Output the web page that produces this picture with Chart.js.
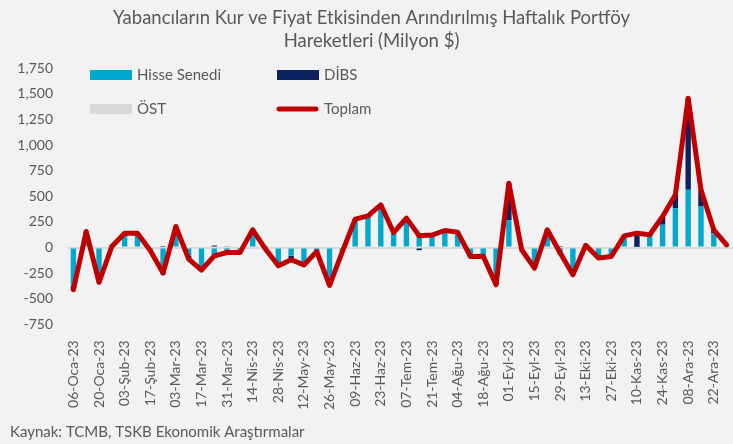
<!DOCTYPE html>
<html>
<head>
<meta charset="utf-8">
<script src="https://cdn.jsdelivr.net/npm/chart.js@4/dist/chart.umd.min.js"></script>
<style>
  html, body { margin: 0; padding: 0; background: #f2f2f2; }
</style>
</head>
<body>
<canvas id="myChart" width="733" height="444"></canvas>
<script>
// haftalik portfoy hareketleri, milyon $
var weeks = [
  "06-Oca-23", "13-Oca-23", "20-Oca-23", "27-Oca-23",
  "03-Şub-23", "10-Şub-23", "17-Şub-23", "24-Şub-23",
  "03-Mar-23", "10-Mar-23", "17-Mar-23", "24-Mar-23", "31-Mar-23",
  "07-Nis-23", "14-Nis-23", "21-Nis-23", "28-Nis-23",
  "05-May-23", "12-May-23", "19-May-23", "26-May-23",
  "02-Haz-23", "09-Haz-23", "16-Haz-23", "23-Haz-23", "30-Haz-23",
  "07-Tem-23", "14-Tem-23", "21-Tem-23", "28-Tem-23",
  "04-Ağu-23", "11-Ağu-23", "18-Ağu-23", "25-Ağu-23",
  "01-Eyl-23", "08-Eyl-23", "15-Eyl-23", "22-Eyl-23", "29-Eyl-23",
  "06-Eki-23", "13-Eki-23", "20-Eki-23", "27-Eki-23",
  "03-Kas-23", "10-Kas-23", "17-Kas-23", "24-Kas-23",
  "01-Ara-23", "08-Ara-23", "15-Ara-23", "22-Ara-23", "29-Ara-23"
];

var hisse = [-370, 120, -330, -10, 110, 140, -20, -265, 180, -80, -200, -100, -60,
  -60, 130, -20, -170, -80, -150, -30, -360, -50, 260, 290, 390, 140,
  250, 140, 120, 160, 150, -80, -80, -350, 265, -20, -190, 150, -67,
  -250, 16, -100, -85, 100, 5, 120, 221, 384, 563, 400, 140, 20];

var dibs = [-40, 36, -10, 20, 30, 0, -10, 15, 25, -33, -20, 19, 11,
  10, 43, 5, -8, -40, -20, -10, -10, 10, 17, 19, 27, 6,
  37, -26, 1, 6, 0, -8, -5, -14, 363, -2, -11, 23, 15,
  -16, 6, -3, -3, 14, 135, 4, 82, 130, 895, 163, 33, 6];

var ost = [-3, 0, 0, 0, 0, 0, 0, 0, 0, 0, 0, 0, 0,
  0, 0, 0, 0, 0, 0, 0, 0, 0, 0, 0, 0, 0,
  0, 0, 0, 0, 0, 0, 0, 0, 0, 0, 0, 0, 0,
  0, 0, 0, 0, 0, 0, 0, 0, 0, 0, 0, 0, 0];

var toplam = [-413, 156, -340, 10, 140, 140, -30, -250, 205, -113, -220, -81, -49,
  -50, 173, -15, -178, -120, -170, -40, -370, -40, 277, 309, 417, 146,
  287, 114, 121, 166, 150, -88, -85, -364, 628, -22, -201, 173, -52,
  -266, 22, -103, -88, 114, 140, 124, 303, 514, 1458, 563, 173, 26];

var seriesNames = ["Hisse Senedi", "DİBS", "ÖST", "Toplam"];
var seriesColors = ["#00a8d0", "#0b2161", "#d9d9d9", "#c00000"];

Chart.defaults.font.family = "Lato, 'Open Sans', sans-serif";
Chart.defaults.color = "#595959";

// legend sits inside the plot, two columns
var insideLegend = {
  id: "insideLegend",
  afterDraw: function (chart) {
    var ctx = chart.ctx;
    var cols = [90, 277];
    var rows = [75, 109];
    ctx.save();
    ctx.font = "15px Lato, 'Open Sans', sans-serif";
    ctx.textBaseline = "middle";
    seriesNames.forEach(function (name, i) {
      var x = cols[i % 2];
      var y = rows[Math.floor(i / 2)];
      if (i === 3) {
        ctx.strokeStyle = seriesColors[i];
        ctx.lineWidth = 5;
        ctx.lineCap = "round";
        ctx.beginPath();
        ctx.moveTo(x + 2, y);
        ctx.lineTo(x + 39, y);
        ctx.stroke();
      } else {
        ctx.fillStyle = seriesColors[i];
        ctx.fillRect(x, y - 5, 42, 10);
      }
      ctx.fillStyle = "#595959";
      ctx.fillText(name, x + 47, y);
    });
    ctx.restore();
  },
};

new Chart("myChart", {
  type: "bar",
  data: {
    labels: weeks,
    datasets: [
      {
        type: "line",
        label: seriesNames[3],
        data: toplam,
        borderColor: seriesColors[3],
        backgroundColor: seriesColors[3],
        borderWidth: 5,
        pointRadius: 0,
        tension: 0,
        borderJoinStyle: "round",
        borderCapStyle: "round",
        stack: "total",
        order: 0,
      },
      {
        label: seriesNames[0],
        data: hisse,
        backgroundColor: seriesColors[0],
        stack: "flows",
        order: 1,
      },
      {
        label: seriesNames[1],
        data: dibs,
        backgroundColor: seriesColors[1],
        stack: "flows",
        order: 1,
      },
      {
        label: seriesNames[2],
        data: ost,
        backgroundColor: seriesColors[2],
        stack: "flows",
        order: 1,
      },
    ],
  },
  options: {
    responsive: false,
    animation: false,
    layout: { padding: { left: 10, right: 0, top: 0, bottom: 0 } },
    datasets: {
      bar: { barPercentage: 0.42, categoryPercentage: 1.0 },
    },
    plugins: {
      legend: { display: false },
      tooltip: { enabled: false },
      title: {
        display: true,
        text: [
          "Yabancıların Kur ve Fiyat Etkisinden Arındırılmış Haftalık Portföy",
          "Hareketleri (Milyon $)",
        ],
        color: "#595959",
        font: { size: 18.5, weight: "normal", lineHeight: 1.25 },
        padding: { top: 6, bottom: 16 },
      },
      subtitle: {
        display: true,
        position: "bottom",
        align: "start",
        text: "Kaynak: TCMB, TSKB Ekonomik Araştırmalar",
        color: "#595959",
        font: { size: 15, weight: "normal", lineHeight: 1.2 },
        padding: { top: 5, bottom: 3 },
      },
    },
    scales: {
      x: {
        stacked: true,
        grid: { display: false },
        border: { display: false },
        afterFit: function (scale) {
          scale.paddingRight = 0;
        },
        ticks: {
          autoSkip: false,
          minRotation: 90,
          maxRotation: 90,
          padding: 8,
          font: { size: 14 },
          callback: function (val, i) {
            return i % 2 === 0 ? this.getLabelForValue(val) : "";
          },
        },
      },
      y: {
        stacked: true,
        min: -750,
        max: 1750,
        border: { display: false },
        afterFit: function (scale) {
          scale.width = 57;
        },
        grid: {
          drawTicks: false,
          lineWidth: 2,
          color: function (c) {
            return c.tick && c.tick.value === 0 ? "#d9d9d9" : "rgba(0,0,0,0)";
          },
        },
        ticks: {
          stepSize: 250,
          padding: 14,
          font: { size: 14 },
          callback: function (v) {
            return v.toLocaleString("en-US");
          },
        },
      },
    },
  },
  plugins: [insideLegend],
});
</script>
</body>
</html>
